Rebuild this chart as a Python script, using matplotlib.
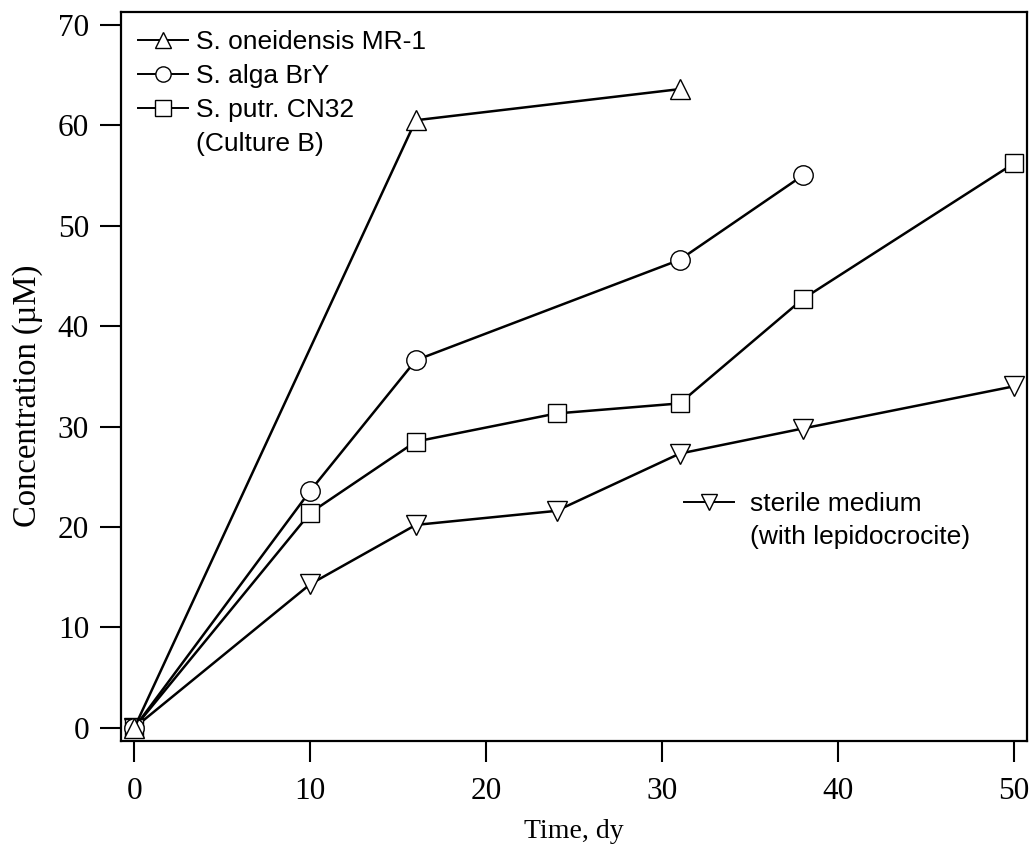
import matplotlib
matplotlib.use("Agg")
import matplotlib.pyplot as plt
from matplotlib.lines import Line2D

# Data
t_mr1 = [0, 16, 31]
c_mr1 = [0, 60.5, 63.6]

t_bry = [0, 10, 16, 31, 38]
c_bry = [0, 23.6, 36.6, 46.6, 55.0]

t_cn32 = [0, 10, 16, 24, 31, 38, 50]
c_cn32 = [0, 21.4, 28.5, 31.3, 32.3, 42.7, 56.2]

t_ster = [0, 10, 16, 24, 31, 38, 50]
c_ster = [0, 14.3, 20.2, 21.6, 27.3, 29.8, 34.0]

xticks = [0, 10, 20, 30, 40, 50]
yticks = [0, 10, 20, 30, 40, 50, 60, 70]

serif = ["Liberation Serif", "DejaVu Serif"]
sans = ["Liberation Sans", "DejaVu Sans"]

fig = plt.figure(figsize=(10.32, 8.49), dpi=100)
ax = fig.add_axes([121/1032, 1-741/849, (1026.7-121)/1032, (741-12.3)/849])

style = dict(color="black", lw=1.8, markerfacecolor="white", markeredgecolor="black",
             markeredgewidth=1.0)
l4, = ax.plot(t_ster, c_ster, marker="v", ms=14, **style)
l3, = ax.plot(t_cn32, c_cn32, marker="s", ms=13, **style)
l2, = ax.plot(t_bry, c_bry, marker="o", ms=14, **style)
l1, = ax.plot(t_mr1, c_mr1, marker="^", ms=14, **style)

ax.set_xlim(-0.76, 50.73)
ax.set_ylim(-1.32, 71.25)
ax.set_xticks(xticks)
ax.set_yticks(yticks)
ax.tick_params(direction="out", length=15, width=1.5)
ax.tick_params(axis="x", pad=11)
ax.tick_params(axis="y", pad=8)
for lab in ax.get_xticklabels() + ax.get_yticklabels():
    lab.set_fontfamily(serif)
    lab.set_fontsize(22.5)
for s in ax.spines.values():
    s.set_linewidth(1.6)

ax.set_xlabel("Time, dy", fontsize=20, family=serif, labelpad=9)
ax.set_ylabel("Concentration (\u00b5M)", fontsize=23.5, family=serif, labelpad=11, y=0.474)

lstyle = dict(color="black", lw=1.4, markerfacecolor="white", markeredgecolor="black",
              markeredgewidth=1.0)
h1 = Line2D([], [], marker="^", ms=11, **lstyle)
h2 = Line2D([], [], marker="o", ms=11, **lstyle)
h3 = Line2D([], [], marker="s", ms=11, **lstyle)
h0 = Line2D([], [], color="none")
leg1 = ax.legend([h1, h2, h3, h0],
                 ["S. oneidensis MR-1", "S. alga BrY", "S. putr. CN32", "(Culture B)"],
                 loc="upper left", bbox_to_anchor=(-0.005, 1.005), frameon=False,
                 prop={"family": sans, "size": 19}, handlelength=1.9,
                 handletextpad=0.3, labelspacing=0.38, borderpad=0.3)
ax.add_artist(leg1)

h4 = Line2D([], [], marker="v", ms=11, **lstyle)
ax.legend([h4, h0], ["sterile medium", "(with lepidocrocite)"],
          loc="upper left", bbox_to_anchor=(0.598, 0.37), frameon=False,
          prop={"family": sans, "size": 19}, handlelength=1.9,
          handletextpad=0.6, labelspacing=0.33, borderpad=0.3)

fig.savefig("out.png", dpi=100)
